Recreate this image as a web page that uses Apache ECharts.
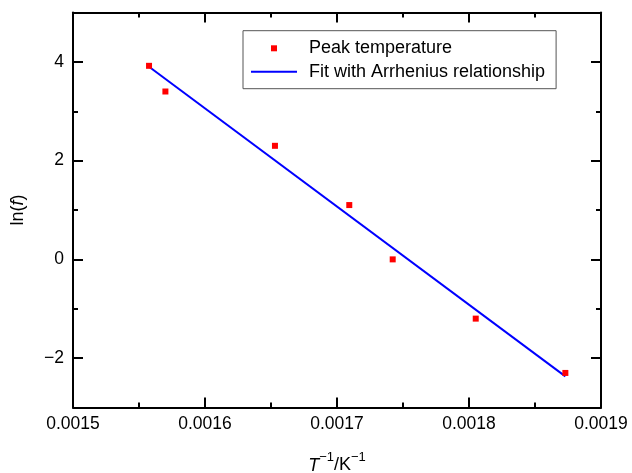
<!DOCTYPE html>
<html>
<head>
<meta charset="utf-8">
<script src="https://cdn.jsdelivr.net/npm/echarts@6/dist/echarts.min.js"></script>
<style>
  html, body { margin: 0; padding: 0; background: #fff; }
  #chart { width: 632px; height: 473px; }
</style>
</head>
<body>
<div id="chart"></div>
<script>
// Peak positions: inverse temperature (1/K) against ln of frequency
var invTemp = [0.0015576, 0.0015700, 0.0016530, 0.0017093, 0.0017422, 0.0018051, 0.0018730];
var lnFreq = [3.92, 3.40, 2.30, 1.10, 0.00, -1.20, -2.30];

// Straight-line Arrhenius fit, drawn between its two end points
var fitX = [0.0015576, 0.0018730];
var fitY = [3.90, -2.37];

// Axis ranges and labelled ticks
var xMin = 0.0015, xMax = 0.0019, xStep = 0.0001;
var yMin = -3, yMax = 5;
var yMajor = [-2, 0, 2, 4];
var yMinor = [-1, 1, 3];

var seriesNames = ['Peak temperature', 'Fit with Arrhenius relationship'];

var FONT = 'Liberation Sans, Arial, Helvetica, sans-serif';

var scatterData = invTemp.map(function (x, i) { return [x, lnFreq[i]]; });
var fitData = fitX.map(function (x, i) { return [x, fitY[i]]; });

function minus(v) { return String(v).replace('-', '\u2212'); }

var lineBlack = { show: true, onZero: false, lineStyle: { color: '#000', width: 2 } };

function xAxisDef(pos, withLabels) {
  return {
    type: 'value', position: pos, min: xMin, max: xMax, interval: xStep,
    axisLine: lineBlack,
    axisTick: { show: true, inside: true, length: 10, lineStyle: { color: '#000', width: 2 } },
    minorTick: { show: true, splitNumber: 2, length: 5, lineStyle: { color: '#000', width: 2 } },
    splitLine: { show: false },
    axisLabel: withLabels ? {
      show: true, margin: 8, color: '#000', fontSize: 17.5, fontFamily: FONT,
      formatter: function (v) { return v.toFixed(4); }
    } : { show: false }
  };
}

function yAxisDef(pos, ticks, len, withLine, withLabels) {
  return {
    type: 'value', position: pos, min: yMin, max: yMax, interval: 1,
    axisLine: withLine ? lineBlack : { show: false },
    axisTick: { show: true, inside: true, length: len, customValues: ticks,
      lineStyle: { color: '#000', width: 2 } },
    splitLine: { show: false },
    axisLabel: withLabels ? {
      show: true, margin: 9, color: '#000', fontSize: 17.5, fontFamily: FONT,
      customValues: yMajor, formatter: function (v) { return minus(v); }
    } : { show: false }
  };
}

var xBottom = xAxisDef('bottom', true);
xBottom.name = '{i|T}{s|\u22121}{n|/K}{s|\u22121}';
xBottom.nameLocation = 'middle';
xBottom.nameGap = 43;
xBottom.nameTextStyle = {
  color: '#000', fontFamily: FONT, fontSize: 18,
  rich: {
    i: { fontStyle: 'italic', fontSize: 18, fontFamily: FONT, color: '#000', lineHeight: 24, verticalAlign: 'bottom' },
    n: { fontSize: 18, fontFamily: FONT, color: '#000', lineHeight: 24, verticalAlign: 'bottom' },
    s: { fontSize: 13, fontFamily: FONT, color: '#000', lineHeight: 24, verticalAlign: 'top' }
  }
};

var yLeft = yAxisDef('left', yMajor, 10, true, true);
yLeft.name = 'ln({i|f})';
yLeft.nameLocation = 'middle';
yLeft.nameRotate = 90;
yLeft.nameGap = 46;
yLeft.nameTextStyle = {
  color: '#000', fontFamily: FONT, fontSize: 18,
  rich: { i: { fontStyle: 'italic', fontSize: 18, fontFamily: FONT, color: '#000' } }
};

var option = {
  animation: false,
  backgroundColor: '#fff',
  grid: { left: 73, right: 31, top: 12.5, bottom: 65.5, containLabel: false, outerBoundsMode: 'none' },
  xAxis: [xBottom, xAxisDef('top', false)],
  yAxis: [
    yLeft,
    yAxisDef('left', yMinor, 5, false, false),
    yAxisDef('right', yMajor, 10, true, false),
    yAxisDef('right', yMinor, 5, false, false)
  ],
  legend: {
    orient: 'vertical',
    left: 243, top: 30.7,
    padding: [8.6, 11, 8, 7],
    itemWidth: 46, itemHeight: 6, itemGap: 5.4,
    backgroundColor: '#fff',
    borderColor: '#555', borderWidth: 1,
    textStyle: { color: '#000', fontSize: 18, fontFamily: FONT, lineHeight: 18, padding: [0, 0, 0, 7] },
    data: [
      { name: seriesNames[0], icon: 'path://M0,0h1v1h-1z' },
      { name: seriesNames[1], itemStyle: { opacity: 0 } }
    ]
  },
  series: [
    {
      name: seriesNames[1], type: 'line', data: fitData,
      xAxisIndex: 0, yAxisIndex: 0,
      showSymbol: false, symbol: 'none',
      lineStyle: { color: '#0000ff', width: 2 },
      itemStyle: { color: '#0000ff' },
      z: 2
    },
    {
      name: seriesNames[0], type: 'scatter', data: scatterData,
      xAxisIndex: 0, yAxisIndex: 0,
      symbol: 'rect', symbolSize: 6,
      itemStyle: { color: '#ff0000', opacity: 1 },
      z: 3
    }
  ]
};

var chart = echarts.init(document.getElementById('chart'), null, { renderer: 'canvas' });
chart.setOption(option);
</script>
</body>
</html>
